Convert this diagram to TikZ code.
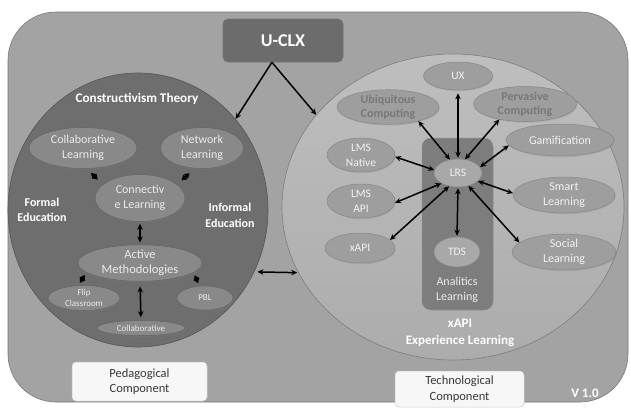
\documentclass[tikz,border=0pt]{standalone}
\usepackage{fontspec}
\setmainfont{Carlito}
\usetikzlibrary{shapes.geometric,arrows.meta,shadows}
\definecolor{bgc}{RGB}{163,163,163}
\definecolor{bgd}{RGB}{120,120,120}
\definecolor{leftc}{RGB}{110,110,110}
\definecolor{leftd}{RGB}{85,85,85}
\definecolor{lellc}{RGB}{137,137,137}
\definecolor{lelld}{RGB}{100,100,100}
\definecolor{rtop}{RGB}{190,190,190}
\definecolor{rbot}{RGB}{172,172,172}
\definecolor{rightd}{RGB}{125,125,125}
\definecolor{rellc}{RGB}{158,158,158}
\definecolor{relld}{RGB}{135,135,135}
\definecolor{aboxc}{RGB}{125,125,125}
\definecolor{lrsc}{RGB}{168,168,168}
\definecolor{uclxc}{RGB}{108,108,108}
\definecolor{dimtext}{RGB}{120,120,120}
\definecolor{boxtext}{RGB}{55,55,55}
\newcommand\fsz[2]{\fontsize{#1}{#2}\selectfont}
\begin{document}
\begin{tikzpicture}[x=1pt,y=-1pt]
\tikzset{
  lell/.style={ellipse, fill=lellc, draw=lelld, line width=0.5pt, inner sep=0pt,
    text=white!92!black, align=center, drop shadow={shadow xshift=0.8pt, shadow yshift=-1.2pt, opacity=0.35}},
  rell/.style={ellipse, fill=rellc, draw=relld, line width=0.5pt, inner sep=0pt,
    text=white!95!black, align=center, drop shadow={shadow xshift=0.8pt, shadow yshift=-1.2pt, opacity=0.25}},
  dbl/.style={{Stealth[length=6pt,width=5.5pt]}-{Stealth[length=6pt,width=5.5pt]}, line width=1.5pt, black},
  dia/.style={{Triangle[length=5pt,width=6pt]}-{Triangle[length=5pt,width=6pt]}, line width=1pt, black},
  sgl/.style={-{Stealth[length=6pt,width=5.5pt]}, line width=1.5pt, black},
  wlab/.style={text=white, align=center, inner sep=0pt},
  wbox/.style={rectangle, rounded corners=4pt, fill=white!97!black, draw=black!20, line width=0.5pt,
    text=boxtext, align=center, inner sep=0pt, font=\fsz{12.5}{15.5}}
}
\useasboundingbox (0,0) rectangle (631,407);
\fill[white] (0,0) rectangle (631,407);
% background
\draw[fill=bgc, draw=bgd, line width=0.6pt, rounded corners=48pt] (8,12) rectangle (628,402);
% big circles
\node[ellipse, fill=leftc, draw=leftd, line width=0.6pt, minimum width=260, minimum height=274, inner sep=0pt] (ped) at (138,210) {};
\node[ellipse, top color=rtop, bottom color=rbot, draw=rightd, line width=0.6pt, minimum width=342, minimum height=306, inner sep=0pt] (tech) at (453,207) {};
% analytics box
\node[rectangle, rounded corners=9pt, fill=aboxc, draw=black!45, line width=0.5pt, minimum width=71, minimum height=172, inner sep=0pt] (abox) at (457.5,224) {};
% U-CLX
\node[rectangle, rounded corners=5pt, fill=uclxc, draw=black!55, line width=0.6pt, minimum width=120, minimum height=43, inner sep=0pt,
  text=white, font=\fsz{18}{21}\bfseries] (uclx) at (283,40.5) {U-CLX};
% left labels
\node[wlab, font=\fsz{13.2}{16}\bfseries] (ctheory) at (137,99) {Constructivism Theory};
\node[wlab, font=\fsz{12}{15}\bfseries] (formal) at (42,210) {Formal\\Education};
\node[wlab, font=\fsz{12}{16}\bfseries] (informal) at (230,215) {Informal\\Education};
% left ellipses
\node[lell, minimum width=108, minimum height=41, font=\fsz{12}{15}] (collab) at (83,148) {Collaborative\\Learning};
\node[lell, minimum width=83, minimum height=41, font=\fsz{12}{15}] (network) at (202,148) {Network\\Learning};
\node[lell, minimum width=90, minimum height=47, font=\fsz{12}{15}] (connective) at (140,198) {Connectiv\\e Learning};
\node[lell, minimum width=124, minimum height=35, font=\fsz{12.5}{15}] (active) at (140,263) {Active\\Methodologies};
\node[lell, minimum width=72, minimum height=25, font=\fsz{9}{11}] (flip) at (84,298) {Flip\\Classroom};
\node[lell, minimum width=56, minimum height=24, font=\fsz{9}{11}] (pbl) at (205,298) {PBL};
\node[lell, minimum width=88, minimum height=15, font=\fsz{9}{11}] (collab2) at (141,328) {Collaborative};
% right ellipses
\node[rell, minimum width=69, minimum height=28, font=\fsz{11.5}{15}] (ux) at (458,76) {UX};
\node[rell, minimum width=102, minimum height=33, font=\fsz{12}{14}\bfseries, text=dimtext] (ubi) at (388,107) {Ubiquitous\\Computing};
\node[rell, minimum width=103, minimum height=35, font=\fsz{12}{14}\bfseries, text=dimtext] (perv) at (525,104) {Pervasive\\Computing};
\node[rell, minimum width=108, minimum height=32, font=\fsz{12}{15}] (gam) at (560,140) {Gamification};
\node[rell, minimum width=68, minimum height=34, font=\fsz{11.5}{15}] (lmsn) at (361,155) {LMS\\Native};
\node[rell, minimum width=68, minimum height=34, font=\fsz{11.5}{15}] (lmsa) at (361,201) {LMS\\API};
\node[rell, minimum width=70, minimum height=30, font=\fsz{11.5}{15}] (xapi) at (360,248) {xAPI};
\node[rell, minimum width=102, minimum height=36, font=\fsz{12}{15}] (smart) at (564,195) {Smart\\Learning};
\node[rell, minimum width=104, minimum height=34, font=\fsz{12}{15}] (social) at (564,252) {Social\\Learning};
\node[rell, fill=lrsc, minimum width=48, minimum height=28, font=\fsz{11.5}{15}] (lrs) at (458,173) {LRS};
\node[rell, fill=lrsc, minimum width=46, minimum height=30, font=\fsz{11.5}{15}] (tds) at (457,252) {TDS};
% right labels
\node[wlab, font=\fsz{12}{15}, text=white!92!black] (analitics) at (457,290) {Analitics\\Learning};
\node[wlab, font=\fsz{13}{16.5}\bfseries] (xapiexp) at (460,333) {xAPI\\Experience Learning};
\node[wlab, font=\fsz{13}{15}\bfseries] (ver) at (585,393) {V 1.0};
% bottom boxes
\node[wbox, minimum width=135, minimum height=39] (pedbox) at (139.5,381.5) {Pedagogical\\Component};
\node[wbox, minimum width=129, minimum height=36] (techbox) at (459.5,389) {Technological\\Component};
% U-CLX arrows
\draw[sgl] (uclx.243) -- (ped.43.5);
\draw[sgl] (uclx.243) -- (tech.146.5);
\draw[dbl, shorten <=3pt, shorten >=1pt] (ped.-28) -- (tech.203);
% left arrows
\draw[dia, shorten <=6pt, shorten >=7pt] (collab.-80) -- (connective.160);
\draw[dia, shorten <=7pt, shorten >=6pt] (network.-110) -- (connective.20);
\draw[dbl, shorten <=2pt, shorten >=2pt] (connective.-90) -- (active.90);
\draw[dia, shorten <=3pt, shorten >=3pt] (active.190) -- (flip.115);
\draw[dia, shorten <=3pt, shorten >=3pt] (active.-10) -- (pbl.115);
\draw[dbl, shorten <=5pt, shorten >=3pt] (active.-90) -- (collab2.90);
% right arrows
\draw[dbl, shorten <=3pt, shorten >=1pt] (ux.-90) -- (lrs.90);
\draw[dbl] (ubi.-25) -- (lrs.121);
\draw[dbl] (perv.211) -- (lrs.63);
\draw[dbl] (gam.186) -- (lrs.15);
\draw[dbl] (lmsn.-3) -- (lrs.173);
\draw[dbl] (lmsa.-3) -- (lrs.212);
\draw[dbl] (smart.178) -- (lrs.-22);
\draw[dbl] (xapi.15) -- (lrs.236);
\draw[dbl, shorten <=1pt, shorten >=1pt] (lrs.-90) -- (tds.90);
\draw[dbl] (social.168) -- (lrs.-51);
\end{tikzpicture}
\end{document}
